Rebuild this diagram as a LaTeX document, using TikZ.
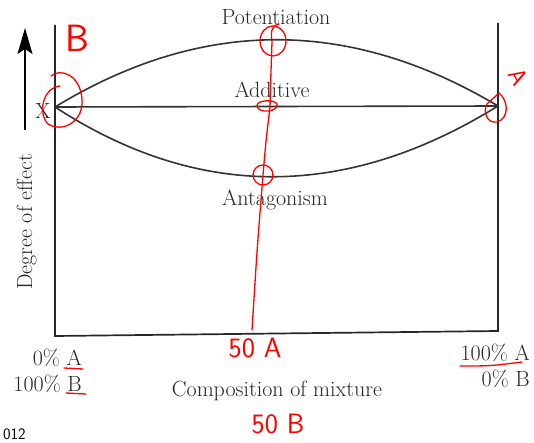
\documentclass[tikz,border=0pt]{standalone}
\usepackage{tikz}
\usetikzlibrary{arrows.meta, calc}

\begin{document}
\begin{tikzpicture}[
  x=1pt, y=-1pt,
  every node/.style={font=\fontsize{22}{26}\selectfont, inner sep=0pt, text=black!85},
  axis/.style={line width=1.7pt, draw=black!85},
  curve/.style={line width=1.6pt, draw=black!80},
  pen/.style={red, line width=1.3pt, line cap=round, line join=round},
  penlabel/.style={text=red, font=\sffamily\fontsize{28}{28}\selectfont},
]
  \useasboundingbox (0,0) rectangle (534,443);
  \clip (0,0) rectangle (534,443);

  % frame of the plot
  \coordinate (lt) at (55,25);
  \coordinate (lb) at (55,336);
  \coordinate (rt) at (498,23);
  \coordinate (rb) at (498,331);
  \coordinate (X) at (55,107);
  \coordinate (Y) at (498,106);
  \draw[axis] (lt) -- (lb) -- (rb) -- (rt);

  % three response curves
  \draw[curve] (X) .. controls (201.7,17.7) and (349.3,17.3) .. (Y);
  \draw[curve] (X) -- (Y);
  \draw[curve] (X) .. controls (198.3,200.3) and (346,200) .. (Y);

  \node[anchor=base] (pot) at (276,25) {Potentiation};
  \node[anchor=base] (add) at (272,98) {Additive};
  \node[anchor=base] (ant) at (275,206) {Antagonism};
  \node (xlab) at (43,111) {X};

  % y axis
  \coordinate (ya) at (25,130);
  \coordinate (yb) at (25,28);
  \draw[line width=1.5pt, -{Stealth[length=26pt, width=15pt, inset=5pt]}] (ya) -- (yb);
  \node[rotate=90, anchor=base] (ylab) at (32,222) {Degree of effect};

  % x axis labels
  \node[anchor=base east] (a0) at (82,365) {0\% A};
  \node[anchor=base east] (b100) at (82,391) {100\% B};
  \node[anchor=base east] (a100) at (530,360) {100\% A};
  \node[anchor=base east] (b0) at (530,386) {0\% B};
  \node[anchor=base] (xlab2) at (277,396) {Composition of mixture};
  \node[anchor=south west, text=black, font=\sffamily\fontsize{16}{16}\selectfont] (yr) at (3,440) {012};

  % red handwriting
  \draw[pen] (279,24) .. controls (270,26) and (271,34) .. (272,42)
    .. controls (271,70) .. (270,107) .. controls (266,140) .. (263,175)
    .. controls (257,250) .. (252,330);
  \draw[pen] (273,41) ellipse [x radius=13, y radius=15];
  \draw[pen] (257,106) .. controls (256,100) and (274,99) .. (277,104)
    .. controls (279,112) and (258,114) .. (257,106);
  \draw[pen] (263,175) circle [radius=10];
  \draw[pen] (51,76) .. controls (60,68) and (80,74) .. (82,99)
    .. controls (84,122) and (62,133) .. (48,124)
    .. controls (38,114) and (42,88) .. (60,86);
  \draw[pen] (499,93) .. controls (508,100) and (510,118) .. (497,122)
    .. controls (486,124) and (483,110) .. (487,104) -- (499,93);
  \node[penlabel, rotate=-60, font=\sffamily\fontsize{24}{24}\selectfont] (pa) at (518,77) {A};
  \node[penlabel, font=\sffamily\fontsize{38}{38}\selectfont] (pb) at (77,38) {B};
  \node[penlabel] (p50a) at (255,348) {50 A};
  \node[penlabel] (p50b) at (278,424) {50 B};
  \draw[pen] (64,368) -- (83,369);
  \draw[pen] (66,393) -- (86,394);
  \draw[pen] (460,366) .. controls (490,366) .. (522,362);
\end{tikzpicture}
\end{document}
